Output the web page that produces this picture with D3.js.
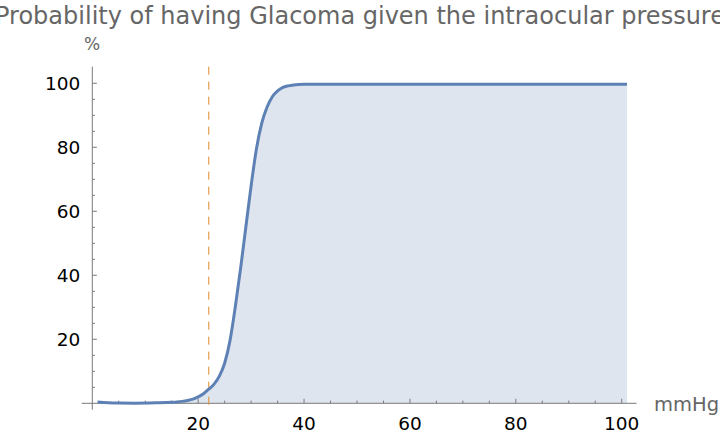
<!DOCTYPE html>
<html>
<head>
<meta charset="utf-8">
<script src="https://cdn.jsdelivr.net/npm/d3@7"></script>
<style>
  body { margin: 0; background: #fff; }
  svg { display: block; font-family: "DejaVu Sans", sans-serif; }
</style>
</head>
<body>
<div id="chart"></div>
<script>
// Data: pressure (mmHg) and probability (%)
const pressure = [1, 3, 5, 8, 12, 15, 16, 17, 18, 19, 20, 21, 22, 23, 24, 25, 26, 27, 28, 29, 30, 31, 32, 33, 34, 35, 36, 37, 38, 40, 45, 60, 80, 101];
const probability = [0.4, 0.2, 0.1, 0.05, 0.15, 0.3, 0.4, 0.6, 0.9, 1.3, 2.0, 3.0, 4.4, 6.0, 8.5, 12.5, 19.5, 30, 42, 55, 68, 79.5, 87.5, 92.5, 95.8, 97.6, 98.7, 99.2, 99.5, 99.7, 99.7, 99.7, 99.7, 99.7];
const threshold = 22;
const xTicks = [20, 40, 60, 80, 100];
const yTicks = [20, 40, 60, 80, 100];

const title = "Probability of having Glacoma given the intraocular pressure";

const ctx = {
  WIDTH: 720,
  HEIGHT: 434,
  axisColor: "#7a7a7a",
  lineColor: "#5e81b5",
  fillColor: "#dfe5ef",
  dashColor: "#e08a2a"
};

function createViz() {
  const svg = d3.select("#chart").append("svg")
    .attr("width", ctx.WIDTH)
    .attr("height", ctx.HEIGHT);

  // x: 0 -> 92.3px, 100 -> 621.7px ; y: 0 -> 403.3px, 100 -> 83.3px
  const x = d3.scaleLinear().domain([0, 100]).range([92.3, 621.7]);
  const y = d3.scaleLinear().domain([0, 100]).range([403.3, 83.3]);

  const data = pressure.map((p, i) => ({ x: p, y: probability[i] }));

  // filled area under curve
  svg.append("path")
    .datum(data)
    .attr("fill", ctx.fillColor)
    .attr("d", d3.area()
      .x(d => x(d.x))
      .y0(y(0))
      .y1(d => y(d.y))
      .curve(d3.curveMonotoneX));

  // axes lines
  const xMin = -2, xMax = 102.8, yMin = -2, yMax = 105.2;
  svg.append("line")
    .attr("x1", x(xMin)).attr("x2", x(xMax))
    .attr("y1", y(0)).attr("y2", y(0))
    .attr("stroke", ctx.axisColor).attr("stroke-width", 1);
  svg.append("line")
    .attr("x1", x(0)).attr("x2", x(0))
    .attr("y1", y(yMin)).attr("y2", y(yMax))
    .attr("stroke", ctx.axisColor).attr("stroke-width", 1);

  // x ticks (inside, pointing up)
  const xMinor = d3.range(5, 101, 5);
  svg.append("g").selectAll("line")
    .data(xMinor)
    .join("line")
    .attr("x1", d => x(d)).attr("x2", d => x(d))
    .attr("y1", y(0))
    .attr("y2", d => y(0) - (d % 20 === 0 ? 4.5 : 2.7))
    .attr("stroke", ctx.axisColor);

  svg.append("g").selectAll("text")
    .data(xTicks)
    .join("text")
    .attr("x", d => x(d))
    .attr("y", y(0) + 27)
    .attr("text-anchor", "middle")
    .attr("font-size", 18.5)
    .attr("fill", "#000")
    .text(d => d);

  // y ticks (inside, pointing right)
  const yMinor = d3.range(5, 101, 5);
  svg.append("g").selectAll("line")
    .data(yMinor)
    .join("line")
    .attr("x1", x(0))
    .attr("x2", d => x(0) + (d % 20 === 0 ? 4.5 : 2.7))
    .attr("y1", d => y(d)).attr("y2", d => y(d))
    .attr("stroke", ctx.axisColor);

  svg.append("g").selectAll("text")
    .data(yTicks)
    .join("text")
    .attr("x", x(0) - 12)
    .attr("y", d => y(d) + 6.5)
    .attr("text-anchor", "end")
    .attr("font-size", 18.5)
    .attr("fill", "#000")
    .text(d => d);

  // threshold dashed line
  svg.append("line")
    .attr("x1", x(threshold)).attr("x2", x(threshold))
    .attr("y1", y(yMax)).attr("y2", y(yMin))
    .attr("stroke", ctx.dashColor)
    .attr("stroke-width", 1)
    .attr("stroke-dasharray", "8,7");

  // curve
  svg.append("path")
    .datum(data)
    .attr("fill", "none")
    .attr("stroke", ctx.lineColor)
    .attr("stroke-width", 3)
    .attr("stroke-linejoin", "round")
    .attr("d", d3.line()
      .x(d => x(d.x))
      .y(d => y(d.y))
      .curve(d3.curveMonotoneX));

  // axis labels
  svg.append("text")
    .attr("x", 84).attr("y", 50)
    .attr("font-size", 17)
    .attr("fill", "#666")
    .text("%");

  svg.append("text")
    .attr("x", 654).attr("y", 411)
    .attr("font-size", 19.5)
    .attr("fill", "#666")
    .text("mmHg");

  // title
  svg.append("text")
    .attr("x", 360).attr("y", 24)
    .attr("text-anchor", "middle")
    .attr("font-size", 24)
    .attr("fill", "#666")
    .text(title);
}

createViz();
</script>
</body>
</html>
